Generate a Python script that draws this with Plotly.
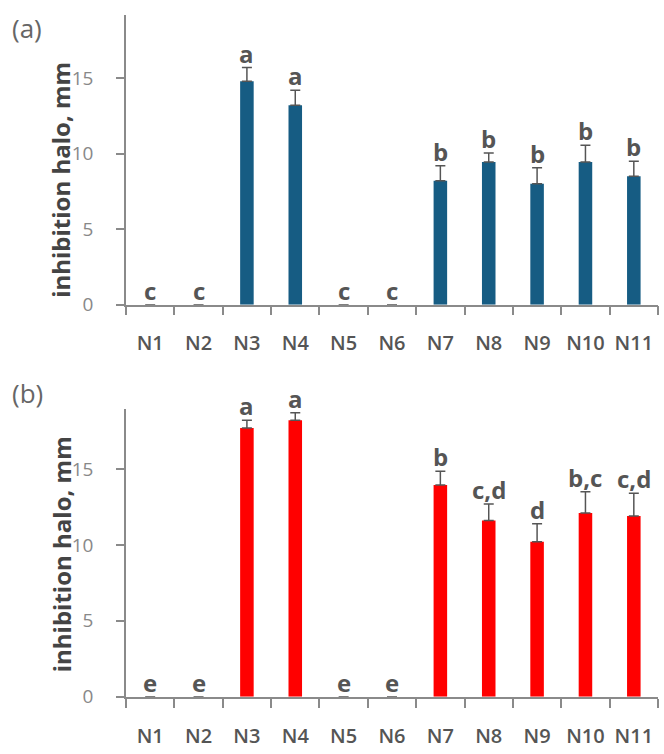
import plotly.graph_objects as go

categories = ["N1", "N2", "N3", "N4", "N5", "N6", "N7", "N8", "N9", "N10", "N11"]

vals_a = [0, 0, 14.8, 13.2, 0, 0, 8.2, 9.45, 8.0, 9.45, 8.5]
err_a = [0, 0, 0.9, 1.0, 0, 0, 1.0, 0.6, 1.07, 1.1, 1.0]
letters_a = ["c", "c", "a", "a", "c", "c", "b", "b", "b", "b", "b"]

vals_b = [0, 0, 17.7, 18.2, 0, 0, 13.95, 11.6, 10.2, 12.1, 11.9]
err_b = [0, 0, 0.5, 0.5, 0, 0, 0.9, 1.1, 1.2, 1.4, 1.5]
letters_b = ["e", "e", "a", "a", "e", "e", "b", "c,d", "d", "b,c", "c,d"]

yticks = [0, 5, 10, 15]

W, H = 664, 754
BLUE = "#165c83"
RED = "#ff0000"
AXC = "#8a8a8a"
FONT = "Open Sans"

fig = go.Figure()

def add_panel(vals, errs, color, xref, yref):
    fig.add_trace(go.Bar(
        x=categories, y=vals, width=0.28,
        marker=dict(color=color, line=dict(width=0)),
        error_y=dict(type="data", array=errs, arrayminus=[0] * len(errs),
                     symmetric=False, color="#555555", thickness=1.5, width=5),
        xaxis=xref, yaxis=yref, showlegend=False,
    ))

add_panel(vals_a, err_a, BLUE, "x", "y")
add_panel(vals_b, err_b, RED, "x2", "y2")

xdom = [126 / W, 658 / W]
ydom_a = [1 - 310 / H, 1 - 15 / H]
ydom_b = [1 - 709 / H, 1 - 416 / H]

xcommon = dict(
    domain=xdom, type="category", tickson="boundaries", ticks="outside",
    ticklen=9, tickwidth=1.5, tickcolor=AXC, showline=True, linecolor=AXC,
    linewidth=1.5, showgrid=False, zeroline=False, tickangle=0,
    ticklabelstandoff=20,
    tickfont=dict(family=FONT, size=20, color="#555555", weight=600),
    range=[-0.5, 10.5],
)
ycommon = dict(
    tickvals=yticks, ticks="outside", ticklen=8, tickwidth=1.5, tickcolor=AXC,
    showline=True, linecolor=AXC, linewidth=1.5, showgrid=False, zeroline=False,
    ticklabelstandoff=19,
    tickfont=dict(family=FONT, size=19, color="#888888"),
)

fig.update_layout(
    width=W, height=H, margin=dict(l=0, r=0, t=0, b=0),
    paper_bgcolor="white", plot_bgcolor="white",
    bargap=0.7,
    xaxis=dict(anchor="y", **xcommon),
    xaxis2=dict(anchor="y2", **xcommon),
    yaxis=dict(anchor="x", domain=ydom_a, range=[0, 19.2], **ycommon),
    yaxis2=dict(anchor="x2", domain=ydom_b, range=[0, 18.96], **ycommon),
)

annotations = []
for vals, errs, letters, xr, yr in [(vals_a, err_a, letters_a, "x", "y"),
                                     (vals_b, err_b, letters_b, "x2", "y2")]:
    for c, v, e, t in zip(categories, vals, errs, letters):
        annotations.append(dict(
            x=c, y=v + e, xref=xr, yref=yr, text=t, showarrow=False,
            xanchor="center", yanchor="bottom", yshift=-4,
            font=dict(family=FONT, size=24, color="#555555", weight="bold"),
        ))

for yc in (183, 564):
    annotations.append(dict(
        x=61 / W, y=1 - yc / H, xref="paper", yref="paper",
        text="inhibition halo, mm", textangle=-90, showarrow=False,
        xanchor="center", yanchor="middle",
        font=dict(family=FONT, size=24, color="#444444", weight="bold"),
    ))

for txt, yc in (("(a)", 28), ("(b)", 400)):
    annotations.append(dict(x=10 / W, y=1 - yc / H, xref="paper", yref="paper",
                            text=txt, showarrow=False, xanchor="left", yanchor="middle",
                            font=dict(family=FONT, size=26, color="#666666")))

fig.update_layout(annotations=annotations)

fig.write_html("out.html")
